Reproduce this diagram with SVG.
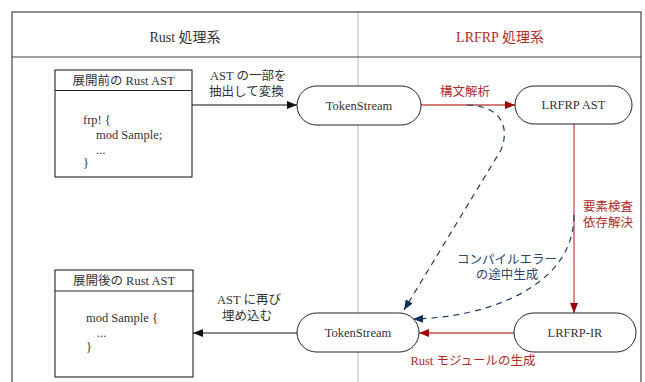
<svg xmlns="http://www.w3.org/2000/svg" width="645" height="382" viewBox="0 0 645 382">
<defs>
<style>
text{font-family:"Liberation Serif","Noto Sans CJK JP",serif;font-size:12.5px;fill:#333;}
.hd{font-size:14px;}
.red{fill:#b02a2a;}
.blue{fill:#2a4670;}
.c{text-anchor:middle;}
.frame{fill:none;stroke:#444;stroke-width:1.2;}
.node{fill:#fff;stroke:#222;stroke-width:1;}
.box{fill:#fff;stroke:#222;stroke-width:1.1;}
.blk{fill:none;stroke:#111;stroke-width:1;}
.rl{fill:none;stroke:#c0504d;stroke-width:1.3;}
.bl{fill:none;stroke:#1f3d6b;stroke-width:1.2;stroke-dasharray:6 5;}
</style>
<marker id="ak" viewBox="0 0 10 8" refX="10" refY="4" markerWidth="10" markerHeight="8" markerUnits="userSpaceOnUse" orient="auto"><path d="M0,0 L10,4 L0,8 Z" fill="#111"/></marker>
<marker id="ar" viewBox="0 0 10 8" refX="10" refY="4" markerWidth="10" markerHeight="8" markerUnits="userSpaceOnUse" orient="auto"><path d="M0,0 L10,4 L0,8 Z" fill="#a00000"/></marker>
<marker id="ab" viewBox="0 0 10 8" refX="10" refY="4" markerWidth="10" markerHeight="8" markerUnits="userSpaceOnUse" orient="auto"><path d="M0,0 L10,4 L0,8 Z" fill="#0f2f5f"/></marker>
</defs>
<rect width="645" height="382" fill="#fff"/>
<g id="frame">
<line x1="358" y1="12" x2="358" y2="382" stroke="#bbb" stroke-width="1"/>
<rect class="frame" x="12" y="12" width="629" height="380"/>
<line class="frame" x1="12" y1="57" x2="641" y2="57"/>
<text class="hd c" x="185" y="42">Rust 処理系</text>
<text class="hd c red" x="500" y="42">LRFRP 処理系</text>
</g>
<g id="connectors">
<line class="blk" x1="192" y1="105" x2="297" y2="105" marker-end="url(#ak)"/>
<text x="210" y="80">AST の一部を</text>
<text x="209" y="96">抽出して変換</text>
<line class="rl" x1="421" y1="105" x2="515" y2="105" marker-end="url(#ar)"/>
<text class="c red" x="465" y="96">構文解析</text>
<line class="rl" x1="574" y1="124" x2="574" y2="313" marker-end="url(#ar)"/>
<text class="c red" x="608" y="211">要素検査</text>
<text class="c red" x="608" y="227">依存解決</text>
<path class="bl" d="M467,105 C495,105 512,122 501,150 L404,310" marker-end="url(#ab)"/>
<path class="bl" d="M574,215 C574,290 480,318 413,319" marker-end="url(#ab)"/>
<text class="c blue" x="507" y="264">コンパイルエラー</text>
<text class="c blue" x="507" y="279">の途中生成</text>
<line class="rl" x1="514" y1="333" x2="419" y2="333" marker-end="url(#ar)"/>
<text class="c red" x="473" y="365">Rust モジュールの生成</text>
<line class="blk" x1="297" y1="333" x2="193" y2="333" marker-end="url(#ak)"/>
<text class="c" x="249" y="304">AST に再び</text>
<text class="c" x="247" y="320">埋め込む</text>
</g>
<g id="ast-before">
<rect class="box" x="55" y="70" width="137" height="107"/>
<line class="box" x1="55" y1="90.5" x2="192" y2="90.5"/>
<text class="c" x="123.5" y="85">展開前の Rust AST</text>
<text x="83" y="124">frp! {</text>
<text x="96" y="139">mod Sample;</text>
<text x="96" y="154">...</text>
<text x="83" y="167">}</text>
</g>
<g id="tokenstream-top">
<rect class="node" x="297" y="86" width="124" height="39" rx="19.5"/>
<text class="c" x="359" y="109.5">TokenStream</text>
</g>
<g id="lrfrp-ast">
<rect class="node" x="515" y="86" width="117" height="38" rx="19"/>
<text class="c" x="573.5" y="109">LRFRP AST</text>
</g>
<g id="lrfrp-ir">
<rect class="node" x="514" y="313" width="122" height="39" rx="19.5"/>
<text class="c" x="575" y="337">LRFRP-IR</text>
</g>
<g id="tokenstream-bottom">
<rect class="node" x="297" y="313" width="122" height="39" rx="19.5"/>
<text class="c" x="358" y="337">TokenStream</text>
</g>
<g id="ast-after">
<rect class="box" x="55" y="270" width="138" height="107"/>
<line class="box" x1="55" y1="291" x2="193" y2="291"/>
<text class="c" x="124" y="285">展開後の Rust AST</text>
<text x="86" y="322">mod Sample {</text>
<text x="97" y="337">...</text>
<text x="86" y="351">}</text>
</g>
</svg>
